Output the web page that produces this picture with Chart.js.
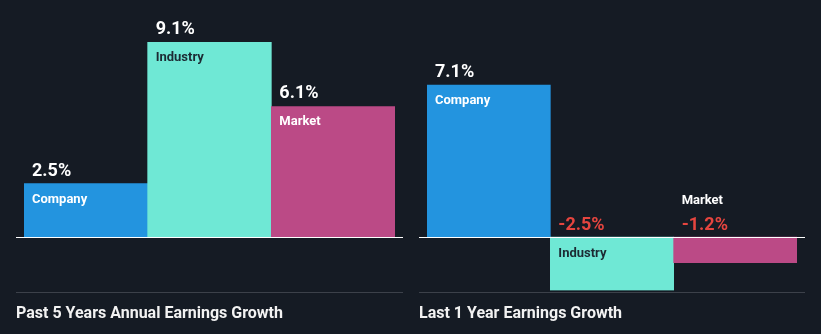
<!DOCTYPE html>
<html>
<head>
<meta charset="utf-8">
<script src="https://cdn.jsdelivr.net/npm/chart.js@4/dist/chart.umd.min.js"></script>
<style>
  html, body { margin: 0; padding: 0; background: #151b24; }
  #wrap { position: relative; width: 821px; height: 334px; background: #151b24; overflow: hidden; }
  canvas { position: absolute; top: 0; }
</style>
</head>
<body>
<div id="wrap">
  <canvas id="pastChart" width="410" height="334" style="left:0"></canvas>
  <canvas id="lastChart" width="411" height="334" style="left:410px"></canvas>
</div>
<script>
// Earnings growth comparison, in percent
const categories = ['Company', 'Industry', 'Market'];
const past5Years = [2.5, 9.1, 6.1];
const last1Year = [7.1, -2.5, -1.2];
const panelTitles = ['Past 5 Years Annual Earnings Growth', 'Last 1 Year Earnings Growth'];

const barColors = ['#2394df', '#6fe8d5', '#bb4a86'];
const nameColors = ['#ffffff', '#1c2a33', '#ffffff'];
const FONT = 'Roboto, "Liberation Sans", sans-serif';

// Draws the value and name labels, the zero line, the footer rule and the panel title
const panelDecor = {
  id: 'panelDecor',
  afterDatasetsDraw(chart, args, opts) {
    const ctx = chart.ctx;
    const area = chart.chartArea;
    const y = chart.scales.y;
    const zero = y.getPixelForValue(0);
    const bottom = y.getPixelForValue(-2.5);
    const meta = chart.getDatasetMeta(0);
    const values = chart.data.datasets[0].data;

    ctx.save();
    // zero line
    ctx.strokeStyle = '#ffffff';
    ctx.lineWidth = 1;
    ctx.beginPath();
    ctx.moveTo(area.left - 8, Math.round(zero) + 0.5);
    ctx.lineTo(area.right + 8, Math.round(zero) + 0.5);
    ctx.stroke();

    // footer rule
    ctx.strokeStyle = '#3c414a';
    ctx.beginPath();
    ctx.moveTo(area.left - 8, Math.round(bottom) + 1.5);
    ctx.lineTo(area.right + 8, Math.round(bottom) + 1.5);
    ctx.stroke();

    // labels
    ctx.textAlign = 'left';
    ctx.textBaseline = 'alphabetic';
    meta.data.forEach((bar, i) => {
      const v = values[i];
      const left = bar.x - bar.width / 2 + 8;
      const valueText = v.toFixed(1) + '%';
      if (v >= 0) {
        ctx.font = 'bold 18px ' + FONT;
        ctx.fillStyle = '#ffffff';
        ctx.fillText(valueText, left, bar.y - 8);
        ctx.font = 'bold 13px ' + FONT;
        ctx.fillStyle = nameColors[i];
        ctx.fillText(categories[i], left, bar.y + 19);
      } else {
        ctx.font = 'bold 18px ' + FONT;
        ctx.fillStyle = '#e5453f';
        ctx.fillText(valueText, left, zero - 7);
        ctx.font = 'bold 13px ' + FONT;
        if (bar.y - zero > 32) {
          ctx.fillStyle = nameColors[i];
          ctx.fillText(categories[i], left, zero + 20);
        } else {
          ctx.fillStyle = '#ffffff';
          ctx.fillText(categories[i], left, zero - 33);
        }
      }
    });

    // title
    ctx.font = 'bold 16px ' + FONT;
    ctx.fillStyle = '#f2f2f2';
    ctx.fillText(opts.title, area.left - 8, 318);
    ctx.restore();
  }
};

function makePanel(id, values, title, padLeft, padRight) {
  return new Chart(document.getElementById(id), {
    type: 'bar',
    data: {
      labels: categories,
      datasets: [{
        data: values,
        backgroundColor: barColors,
        borderWidth: 0,
        barPercentage: 1,
        categoryPercentage: 1
      }]
    },
    options: {
      responsive: false,
      animation: false,
      layout: { padding: { left: padLeft, right: padRight, top: 23, bottom: 43.5 } },
      scales: {
        x: { display: false },
        y: { display: false, min: -2.5, max: 10 }
      },
      plugins: {
        legend: { display: false },
        tooltip: { enabled: false },
        panelDecor: { title: title }
      }
    },
    plugins: [panelDecor]
  });
}

makePanel('pastChart', past5Years, panelTitles[0], 24, 15);
makePanel('lastChart', last1Year, panelTitles[1], 17, 24);
</script>
</body>
</html>
